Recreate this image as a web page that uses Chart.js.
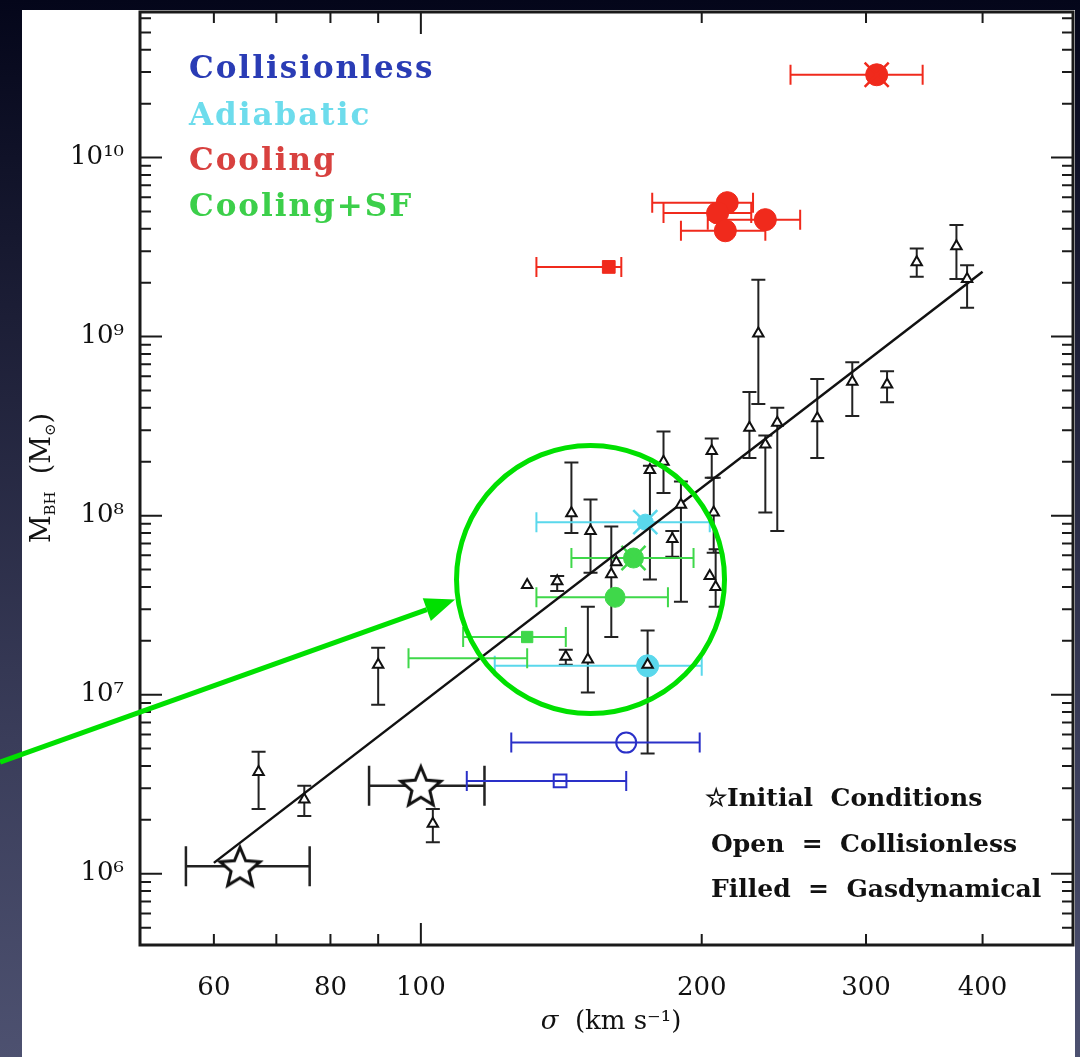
<!DOCTYPE html>
<html>
<head>
<meta charset="utf-8">
<script src="https://cdn.jsdelivr.net/npm/chart.js@4.4.0/dist/chart.umd.min.js"></script>
<style>
html, body { margin:0; padding:0; width:1080px; height:1057px; overflow:hidden;
  background: linear-gradient(180deg, #04061a 0%, #1c1e36 30%, #3a3d5a 70%, #4d5170 100%); }
#panel { position:absolute; left:22px; top:10px; width:1053px; height:1047px; background:#fff; }
#chart { position:absolute; left:0; top:0; }
</style>
</head>
<body>
<div id="panel"></div>
<canvas id="chart" width="1080" height="1057"></canvas>
<script>

// observed galaxies (black triangles, vertical errors)
var galSigma  = [67, 75, 90, 103, 130, 140, 145, 152, 160, 162, 143, 151, 175, 176, 182, 190, 186, 205, 206, 204, 207, 225, 230, 234, 241, 266, 290, 316, 340, 375, 385];
var galMass   = [3.7e6, 2.6e6, 1.47e7, 1.9e6, 4.1e7, 4.3e7, 1.03e8, 8.2e7, 4.7e7, 5.5e7, 1.63e7, 1.57e7, 1.47e7, 1.8e8, 2.0e8, 1.15e8, 7.4e7, 2.3e8, 1.04e8, 4.6e7, 4.0e7, 3.1e8, 1.04e9, 2.5e8, 3.3e8, 3.5e8, 5.6e8, 5.4e8, 2.6e9, 3.2e9, 2.1e9];
var galMassLo = [2.3e6, 2.1e6, 8.8e6, 1.5e6, 4.1e7, 3.8e7, 8.0e7, 4.8e7, 2.1e7, 5.5e7, 1.47e7, 1.03e7, 4.7e6, 4.4e7, 1.34e8, 3.3e7, 5.9e7, 1.63e8, 6.2e7, 4.6e7, 3.1e7, 2.1e8, 4.2e8, 1.04e8, 8.2e7, 2.1e8, 3.6e8, 4.3e8, 2.16e9, 2.1e9, 1.45e9];
var galMassHi = [4.8e6, 3.1e6, 1.83e7, 2.3e6, 4.1e7, 4.6e7, 1.98e8, 1.23e8, 8.7e7, 5.5e7, 1.78e7, 3.1e7, 2.28e7, 1.9e8, 2.95e8, 1.55e8, 8.2e7, 2.7e8, 1.63e8, 4.6e7, 6.5e7, 4.9e8, 2.08e9, 2.8e8, 4.0e8, 5.8e8, 7.2e8, 6.4e8, 3.1e9, 4.2e9, 2.5e9];

// simulations (horizontal errors in sigma)
var coolSigma = [308, 213, 208, 212, 234, 159];
var coolSigLo = [249, 177, 182, 190, 203, 133];
var coolSigHi = [345, 227, 226, 234, 255, 164];
var coolMass  = [2.9e10, 5.6e9, 4.9e9, 3.9e9, 4.5e9, 2.45e9];

var sfSigma = [169, 161.5, 130, 116];
var sfSigLo = [145, 133, 111, 97];
var sfSigHi = [196, 184, 143, 130];
var sfMass  = [5.8e7, 3.5e7, 2.1e7, 1.6e7];

var adiSigma = [174, 175];
var adiSigLo = [133, 120];
var adiSigHi = [204, 200];
var adiMass  = [9.2e7, 1.45e7];

var colSigma = [166, 141];
var colSigLo = [125, 112];
var colSigHi = [199, 166];
var colMass  = [5.4e6, 3.3e6];

// initial conditions (stars)
var icSigma = [100, 64];
var icSigLo = [88, 56];
var icSigHi = [117, 76];
var icMass  = [3.1e6, 1.1e6];

// M-sigma fit
var fitSigma = [60, 400];
var fitMass  = [1.15e6, 2.3e9];

var xTicks = [60, 80, 100, 200, 300, 400];
var yTicks = [1e6, 1e7, 1e8, 1e9, 1e10];
var yTickLabels = ['10\u2076', '10\u2077', '10\u2078', '10\u2079', '10\u00b9\u2070'];

var SERIF = '"DejaVu Serif", "Liberation Serif", serif';
var BLUE = '#2a30c8', CYAN = '#5ad8ec', RED = '#f02a1c', GREEN = '#3fd84a';

function vert(xs, ys, lo, hi){
	var out = [];
	for(var i = 0; i < xs.length; i++){
		out.push({x: xs[i], y: ys[i], yMin: lo[i], yMax: hi[i]});
	}
	return out;
}

function horiz(xs, lo, hi, ys){
	var out = [];
	for(var i = 0; i < xs.length; i++){
		out.push({x: xs[i], y: ys[i], xMin: lo[i], xMax: hi[i]});
	}
	return out;
}

function starImage(r, lw){
	var c = document.createElement('canvas');
	var s = Math.ceil(2*r + 2*lw + 2);
	c.width = s; c.height = s;
	var g = c.getContext('2d');
	g.beginPath();
	for(var i = 0; i < 10; i++){
		var a = -Math.PI/2 + i*Math.PI/5;
		var rr = (i % 2) ? r*0.45 : r;
		g.lineTo(s/2 + rr*Math.cos(a), s/2 + 2 + rr*Math.sin(a));
	}
	g.closePath();
	g.fillStyle = '#fff';
	g.fill();
	g.lineWidth = lw;
	g.strokeStyle = '#111';
	g.stroke();
	return c;
}

// no extra layout padding from the tick labels
function noPad(s){
	s.paddingTop = 0; s.paddingBottom = 0;
	s.paddingLeft = 0; s.paddingRight = 0;
}

// error bars, drawn under the markers
var errorBars = {
	id: 'errorBars',
	beforeDatasetsDraw: function(chart){
		var ctx = chart.ctx, xs = chart.scales.x, ys = chart.scales.y;
		ctx.save();
		chart.data.datasets.forEach(function(ds){
			if(!ds.bars) return;
			ctx.strokeStyle = ds.bars.color;
			ctx.lineWidth = ds.bars.width;
			var c = ds.bars.cap / 2;
			ds.data.forEach(function(p){
				var px = xs.getPixelForValue(p.x), py = ys.getPixelForValue(p.y);
				ctx.beginPath();
				if(p.xMin !== undefined){
					var x0 = xs.getPixelForValue(p.xMin), x1 = xs.getPixelForValue(p.xMax);
					ctx.moveTo(x0, py); ctx.lineTo(x1, py);
					ctx.moveTo(x0, py - c); ctx.lineTo(x0, py + c);
					ctx.moveTo(x1, py - c); ctx.lineTo(x1, py + c);
				}
				if(p.yMin !== undefined && p.yMin !== p.yMax){
					var y0 = ys.getPixelForValue(p.yMin), y1 = ys.getPixelForValue(p.yMax);
					ctx.moveTo(px, y0); ctx.lineTo(px, y1);
					ctx.moveTo(px - c, y0); ctx.lineTo(px + c, y0);
					ctx.moveTo(px - c, y1); ctx.lineTo(px + c, y1);
				}
				ctx.stroke();
			});
		});
		ctx.restore();
	}
};

// box with inward ticks on all four sides
var frame = {
	id: 'frame',
	afterDatasetsDraw: function(chart){
		var ctx = chart.ctx, a = chart.chartArea, xs = chart.scales.x, ys = chart.scales.y;
		ctx.save();
		ctx.strokeStyle = '#1a1a1a';
		ctx.lineWidth = 2;
		ctx.beginPath();
		var d, k, v, len, p;
		for(d = 10; d <= 1000; d *= 10){
			for(k = 1; k < 10; k++){
				v = k*d;
				if(v <= xs.min || v >= xs.max) continue;
				len = (k === 1) ? 22 : 11;
				p = xs.getPixelForValue(v);
				ctx.moveTo(p, a.bottom); ctx.lineTo(p, a.bottom - len);
				ctx.moveTo(p, a.top); ctx.lineTo(p, a.top + len);
			}
		}
		for(var e = 5; e <= 10; e++){
			for(k = 1; k < 10; k++){
				v = k*Math.pow(10, e);
				if(v <= ys.min || v >= ys.max) continue;
				len = (k === 1) ? 22 : 11;
				p = ys.getPixelForValue(v);
				ctx.moveTo(a.left, p); ctx.lineTo(a.left + len, p);
				ctx.moveTo(a.right, p); ctx.lineTo(a.right - len, p);
			}
		}
		ctx.stroke();
		ctx.lineWidth = 3;
		ctx.strokeRect(a.left, a.top, a.right - a.left, a.bottom - a.top);
		ctx.restore();
	}
};

function drawParts(ctx, parts, cx, cy){
	var w = 0;
	parts.forEach(function(p){ ctx.font = p[1]; w += ctx.measureText(p[0]).width; });
	var x = cx - w/2;
	parts.forEach(function(p){
		ctx.font = p[1];
		ctx.fillText(p[0], x, cy + p[2]);
		x += ctx.measureText(p[0]).width;
	});
}

// legend, notes, axis titles and the highlight circle with its arrow
var notes = {
	id: 'notes',
	afterDraw: function(chart){
		var ctx = chart.ctx, xs = chart.scales.x, ys = chart.scales.y;
		ctx.save();
		ctx.textBaseline = 'alphabetic';
		ctx.textAlign = 'left';

		ctx.font = 'bold 31px ' + SERIF;
		ctx.letterSpacing = '2px';
		ctx.fillStyle = '#2a3cb5'; ctx.fillText('Collisionless', 189, 78);
		ctx.fillStyle = '#6ddcec'; ctx.fillText('Adiabatic', 189, 125);
		ctx.fillStyle = '#d8413f'; ctx.fillText('Cooling', 189, 170);
		ctx.fillStyle = '#3ccf4a'; ctx.fillText('Cooling+SF', 189, 216);
		ctx.letterSpacing = '0px';

		ctx.fillStyle = '#111';
		ctx.font = 'bold 25px ' + SERIF;
		ctx.fillText('\u2606Initial  Conditions', 705, 806);
		ctx.fillText('Open  =  Collisionless', 711, 852);
		ctx.fillText('Filled  =  Gasdynamical', 711, 897);

		// x title
		ctx.textBaseline = 'middle';
		drawParts(ctx, [
			['\u03c3', 'italic 26px ' + SERIF, 0],
			['  (km s', '26px ' + SERIF, 0],
			['\u207b\u00b9', '26px ' + SERIF, 0],
			[')', '26px ' + SERIF, 0]
		], 611, 1022);

		// y title
		ctx.save();
		ctx.translate(43, 478);
		ctx.rotate(-Math.PI/2);
		drawParts(ctx, [
			['M', '27px ' + SERIF, 0],
			['BH', '15px ' + SERIF, 8],
			['  (M', '27px ' + SERIF, 0],
			['\u2299', '15px ' + SERIF, 8],
			[')', '27px ' + SERIF, 0]
		], 0, 0);
		ctx.restore();

		// highlight circle + arrow
		ctx.strokeStyle = '#00e000';
		ctx.fillStyle = '#00e000';
		ctx.lineWidth = 5;
		var cx = xs.getPixelForValue(152), cy = ys.getPixelForValue(4.4e7);
		ctx.beginPath();
		ctx.arc(cx, cy, 134, 0, 2*Math.PI);
		ctx.stroke();

		var ax = xs.getPixelForValue(35.4), ay = ys.getPixelForValue(4.2e6);
		var tx = xs.getPixelForValue(108.8), ty = ys.getPixelForValue(3.4e7);
		var ang = Math.atan2(ty - ay, tx - ax), hl = 30, hw = 12;
		var bx = tx - hl*Math.cos(ang), by = ty - hl*Math.sin(ang);
		ctx.beginPath();
		ctx.moveTo(ax, ay); ctx.lineTo(bx, by);
		ctx.stroke();
		ctx.beginPath();
		ctx.moveTo(tx, ty);
		ctx.lineTo(bx - hw*Math.sin(ang), by + hw*Math.cos(ang));
		ctx.lineTo(bx + hw*Math.sin(ang), by - hw*Math.cos(ang));
		ctx.closePath();
		ctx.fill();
		ctx.restore();
	}
};

var star = starImage(21, 3);

var coolData = horiz(coolSigma, coolSigLo, coolSigHi, coolMass);
var sfData = horiz(sfSigma, sfSigLo, sfSigHi, sfMass);
var adiData = horiz(adiSigma, adiSigLo, adiSigHi, adiMass);

var ctx = document.getElementById('chart');

var grafico = new Chart(ctx, {
	type: 'scatter',
	data: {
		datasets: [
			{
				label: 'Observed',
				data: vert(galSigma, galMass, galMassLo, galMassHi),
				pointStyle: 'triangle',
				pointRadius: 6,
				backgroundColor: '#fff',
				borderColor: '#111',
				borderWidth: 2,
				bars: {color: '#222', width: 2, cap: 14}
			},
			{
				label: 'Fit',
				data: [{x: fitSigma[0], y: fitMass[0]}, {x: fitSigma[1], y: fitMass[1]}],
				showLine: true,
				pointRadius: 0,
				borderColor: '#111',
				borderWidth: 2.5
			},
			{
				label: 'Initial Conditions',
				data: horiz(icSigma, icSigLo, icSigHi, icMass),
				pointStyle: star,
				bars: {color: '#222', width: 2.5, cap: 40}
			},
			{
				label: 'marked runs',
				data: [coolData[0], sfData[0], adiData[0]],
				pointStyle: 'crossRot',
				pointRadius: 17,
				borderColor: [RED, GREEN, CYAN],
				borderWidth: 2.5
			},
			{
				label: 'Adiabatic',
				data: adiData,
				pointStyle: 'circle',
				pointRadius: function(c){ return c.dataIndex === 0 ? 8 : 11; },
				backgroundColor: CYAN,
				borderColor: CYAN,
				borderWidth: 1,
				bars: {color: CYAN, width: 2, cap: 20}
			},
			{
				label: 'Cooling+SF',
				data: sfData,
				pointStyle: function(c){ return c.dataIndex === 2 ? 'rect' : 'circle'; },
				pointRadius: function(c){ return c.dataIndex === 3 ? 0 : (c.dataIndex === 2 ? 8 : 10); },
				backgroundColor: GREEN,
				borderColor: GREEN,
				borderWidth: 1,
				bars: {color: GREEN, width: 2, cap: 20}
			},
			{
				label: 'Cooling',
				data: coolData,
				pointStyle: function(c){ return c.dataIndex === 5 ? 'rect' : 'circle'; },
				pointRadius: function(c){ return c.dataIndex === 5 ? 9 : 11; },
				backgroundColor: RED,
				borderColor: RED,
				borderWidth: 1,
				bars: {color: RED, width: 2, cap: 20}
			},
			{
				label: 'Collisionless',
				data: horiz(colSigma, colSigLo, colSigHi, colMass),
				pointStyle: function(c){ return c.dataIndex === 1 ? 'rect' : 'circle'; },
				pointRadius: function(c){ return c.dataIndex === 1 ? 9 : 10; },
				backgroundColor: 'rgba(255,255,255,0)',
				borderColor: BLUE,
				borderWidth: 2,
				bars: {color: BLUE, width: 2, cap: 20}
			}
		]
	},
	options: {
		responsive: false,
		animation: false,
		devicePixelRatio: 1,
		events: [],
		layout: {padding: {left: 0, top: 12, right: 7, bottom: 0}, autoPadding: false},
		plugins: {legend: {display: false}, tooltip: {enabled: false}},
		scales: {
			x: {
				type: 'logarithmic',
				min: 50,
				max: 500,
				afterFit: function(s){ s.height = 112; noPad(s); },
				afterBuildTicks: function(s){ s.ticks = xTicks.map(function(v){ return {value: v}; }); },
				grid: {display: false},
				border: {display: false},
				ticks: {
					autoSkip: false,
					maxRotation: 0,
					padding: 20,
					color: '#111',
					font: {family: SERIF, size: 26},
					callback: function(v){ return String(v); }
				}
			},
			y: {
				type: 'logarithmic',
				min: 4e5,
				max: 6.5e10,
				afterFit: function(s){ s.width = 140; noPad(s); },
				afterBuildTicks: function(s){ s.ticks = yTicks.map(function(v){ return {value: v}; }); },
				grid: {display: false},
				border: {display: false},
				ticks: {
					autoSkip: false,
					padding: 8,
					color: '#111',
					font: {family: SERIF, size: 26},
					callback: function(v, i){ return yTickLabels[i]; }
				}
			}
		}
	},
	plugins: [errorBars, frame, notes]
});

</script>
</body>
</html>
